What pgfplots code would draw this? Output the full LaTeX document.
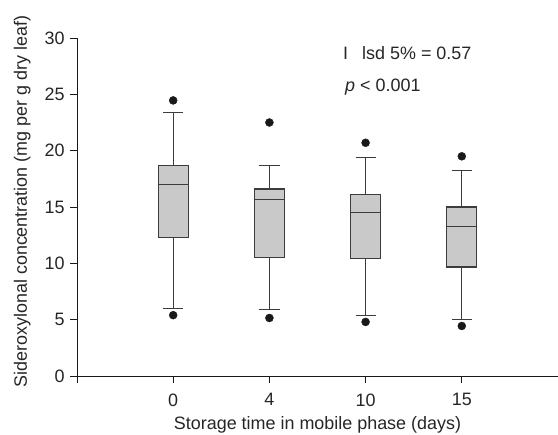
\documentclass[border=0pt]{standalone}
\usepackage{fontspec}
\setmainfont{Liberation Sans}
\usepackage{pgfplots}
\pgfplotsset{compat=1.18}
\definecolor{boxfill}{RGB}{201,201,201}
\definecolor{boxedge}{RGB}{60,60,60}
\definecolor{dotcol}{RGB}{25,25,25}
\newcommand{\fs}{\fontsize{18}{21}\selectfont}
\begin{document}
\begin{tikzpicture}
\begin{axis}[
  scale only axis,
  width=481bp, height=338bp,
  xmin=0, xmax=5, ymin=0, ymax=30,
  axis x line*=bottom,
  axis y line*=left,
  axis line style={-, line width=0.9bp, black!90},
  tick align=outside,
  major tick length=7bp,
  tick style={line width=0.9bp, black!90},
  xtick={0,1,2,3,4},
  xticklabels={,0,4,10,15},
  ytick={0,5,10,15,20,25,30},
  /pgf/number format/assume math mode=true,
  tick label style={font=\fs, text=black!85},
  xticklabel style={yshift=-7bp},
  yticklabel style={xshift=-2bp},
  xlabel={Storage time in mobile phase (days)},
  ylabel={Sideroxylonal concentration (mg per g dry leaf)},
  every axis x label/.style={at={(axis description cs:0.5,-0.157)}, anchor=base, font=\fs, text=black!85},
  every axis y label/.style={at={(axis description cs:-0.114,0.516)}, anchor=center, rotate=90, font=\fs, text=black!85},
  unbounded coords=jump,
  clip=false,
]
% whiskers and caps (drawn first, boxes cover them)
\addplot[boxedge, line width=1.3bp] coordinates {
  (1,12.3) (1,23.4) (nan,nan) (0.895,23.4) (1.105,23.4) (nan,nan)
  (1,12.3) (1,5.98) (nan,nan) (0.895,5.98) (1.105,5.98) (nan,nan)
  (2,10.5) (2,18.7) (nan,nan) (1.895,18.7) (2.105,18.7) (nan,nan)
  (2,10.5) (2,5.9)  (nan,nan) (1.895,5.9)  (2.105,5.9)  (nan,nan)
  (3,10.45) (3,19.4) (nan,nan) (2.895,19.4) (3.105,19.4) (nan,nan)
  (3,10.45) (3,5.4)  (nan,nan) (2.895,5.4)  (3.105,5.4)  (nan,nan)
  (4,9.67) (4,18.25) (nan,nan) (3.895,18.25) (4.105,18.25) (nan,nan)
  (4,9.67) (4,5.03)  (nan,nan) (3.895,5.03)  (4.105,5.03)
};
% boxes: lower quartile to upper quartile
\addplot[fill=boxfill, draw=boxedge, line width=1.2bp] coordinates {(0.845,12.3) (1.155,12.3) (1.155,18.7) (0.845,18.7)} -- cycle;
\addplot[fill=boxfill, draw=boxedge, line width=1.2bp] coordinates {(1.845,10.5) (2.155,10.5) (2.155,16.6) (1.845,16.6)} -- cycle;
\addplot[fill=boxfill, draw=boxedge, line width=1.2bp] coordinates {(2.845,10.45) (3.155,10.45) (3.155,16.1) (2.845,16.1)} -- cycle;
\addplot[fill=boxfill, draw=boxedge, line width=1.2bp] coordinates {(3.845,9.67) (4.155,9.67) (4.155,15.0) (3.845,15.0)} -- cycle;
% medians
\addplot[boxedge, line width=1.2bp] coordinates {
  (0.845,17.0) (1.155,17.0) (nan,nan)
  (1.845,15.7) (2.155,15.7) (nan,nan)
  (2.845,14.5) (3.155,14.5) (nan,nan)
  (3.845,13.25) (4.155,13.25)
};
% outliers
\addplot[only marks, mark=*, mark size=4bp, dotcol] coordinates {
  (1,24.46) (1,5.4)
  (2,22.5) (2,5.15)
  (3,20.7) (3,4.8)
  (4,19.5) (4,4.44)
};
\node[anchor=base west, inner sep=0, font=\fs, text=black!85] at (axis cs:2.765,28.05) {I};
\node[anchor=base west, inner sep=0, font=\fs, text=black!85] at (axis cs:2.963,28.05) {lsd 5\% = 0.57};
\node[anchor=base west, inner sep=0, font=\fs, text=black!85] at (axis cs:2.786,25.24) {\textit{p} < 0.001};
\end{axis}
\pgfresetboundingbox
\path (-77bp,-59bp) rectangle (481bp,376bp);
\end{tikzpicture}
\end{document}
